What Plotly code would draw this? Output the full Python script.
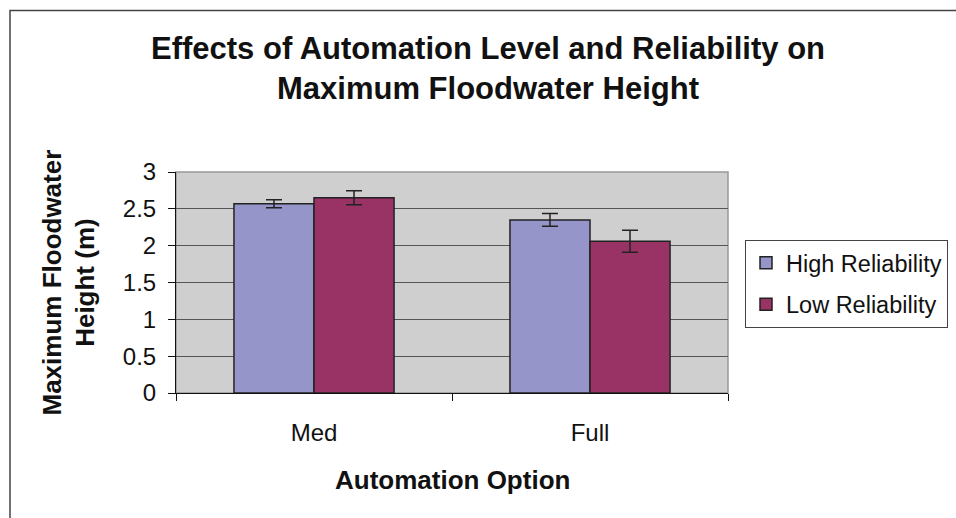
import plotly.graph_objects as go

categories = ["Med", "Full"]
high_vals = [2.57, 2.35]
low_vals = [2.65, 2.06]
high_err = [0.055, 0.088]
low_err = [0.095, 0.15]
series_names = ["High Reliability", "Low Reliability"]
y_ticks = [0, 0.5, 1, 1.5, 2, 2.5, 3]

FONT = "Liberation Sans, Arial, sans-serif"
W, H = 956, 518
# plot area in page pixels: x 176..728, y 172..393
L, T = 176, 172
pw, ph = 552, 221
R = W - L - pw
B = H - T - ph

def px_x(px):
    return (px - L) / pw

def px_y(py):
    return (T + ph - py) / ph

fig = go.Figure()
fig.add_trace(go.Bar(
    x=categories, y=high_vals, name=series_names[0], legendgroup="a",
    marker=dict(color="#9595C9", line=dict(color="#222222", width=1.5)),
    error_y=dict(type="data", array=high_err, visible=True, color="#222222", thickness=1.5, width=8),
))
fig.add_trace(go.Bar(
    x=categories, y=low_vals, name=series_names[1], legendgroup="b",
    marker=dict(color="#993366", line=dict(color="#222222", width=1.5)),
    error_y=dict(type="data", array=low_err, visible=True, color="#222222", thickness=1.5, width=8),
))

fig.update_layout(
    width=W, height=H,
    margin=dict(l=L, r=R, t=T, b=B, autoexpand=False),
    paper_bgcolor="white",
    plot_bgcolor="#CFCFCF",
    barmode="group", bargap=0.42, bargroupgap=0,
    font=dict(family=FONT, color="#111111", size=24),
    showlegend=True,
    legend=dict(
        x=px_x(745), y=px_y(240), xanchor="left", yanchor="top",
        bgcolor="white", bordercolor="#444444", borderwidth=1,
        font=dict(family=FONT, size=23.5, color="#111111"),
        tracegroupgap=8, traceorder="grouped",
    ),
    title=dict(
        text="<b>Effects of Automation Level and Reliability on<br>Maximum Floodwater Height</b>",
        x=488 / W, xanchor="center", y=1 - 59 / H, yanchor="top", yref="container",
        font=dict(family=FONT, size=31, color="#111111"),
    ),
    xaxis=dict(
        showline=True, linecolor="#111111", linewidth=1,
        ticks="outside", ticklen=7, tickcolor="#111111", tickson="boundaries",
        showgrid=False, tickfont=dict(size=24, family=FONT, color="#111111"),
        ticklabelstandoff=18,
    ),
    yaxis=dict(
        range=[0, 3], tickvals=y_ticks, ticktext=[f"{v:g}" for v in y_ticks],
        showline=True, linecolor="#111111", linewidth=1,
        ticks="outside", ticklen=7, tickcolor="#111111",
        showgrid=True, gridcolor="#555555", gridwidth=1, zeroline=False,
        tickfont=dict(size=24, family=FONT, color="#111111"),
        ticklabelstandoff=7,
    ),
)

# plot area border (top/right lighter)
fig.add_shape(type="rect", xref="paper", yref="paper", x0=0, x1=1, y0=0, y1=1,
              line=dict(color="#999999", width=1.5), layer="below")
# outer chart border
fig.add_shape(type="rect", xref="paper", yref="paper",
              x0=px_x(10), x1=px_x(1000), y0=px_y(10.5), y1=px_y(560),
              line=dict(color="#444444", width=1.5))

fig.add_annotation(text="<b>Maximum Floodwater<br>Height (m)</b>", xref="paper", yref="paper",
                   x=px_x(68), y=0.5, textangle=-90, showarrow=False,
                   xanchor="center", yanchor="middle",
                   font=dict(family=FONT, size=26, color="#111111"))
fig.add_annotation(text="<b>Automation Option</b>", xref="paper", yref="paper",
                   x=0.5, y=px_y(480), showarrow=False, xanchor="center", yanchor="middle",
                   font=dict(family=FONT, size=26, color="#111111"))

fig.write_html("out.html", config={"displayModeBar": False},
               post_script="document.body.style.margin='0';document.body.style.overflow='hidden';")
